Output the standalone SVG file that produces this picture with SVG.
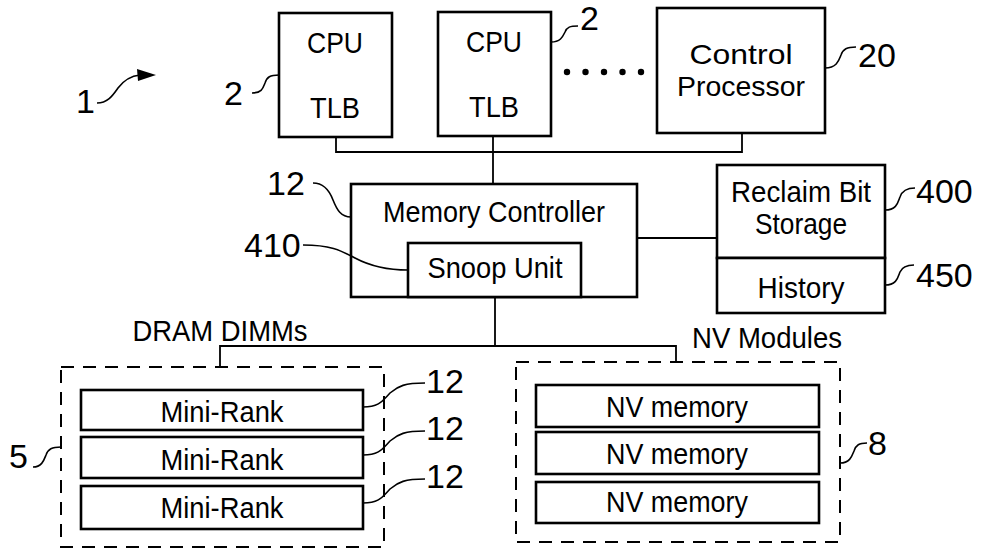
<svg xmlns="http://www.w3.org/2000/svg" width="982" height="550" viewBox="0 0 982 550">
<style>
.box{fill:#fff;stroke:#000;stroke-width:2.6}
.dash{fill:none;stroke:#000;stroke-width:2;stroke-dasharray:13 9}
.ln{fill:none;stroke:#000;stroke-width:1.8}
.sq{fill:none;stroke:#000;stroke-width:1.6}
.t{font-family:"Liberation Sans",Arial,sans-serif;font-size:30px;text-anchor:middle;fill:#000}
.lb{font-family:"Liberation Sans",Arial,sans-serif;font-size:34px;fill:#000}
</style>
<rect width="982" height="550" fill="#fff"/>
<g id="connectors">
<path class="ln" d="M336,137 V152 H742 V133"/>
<path class="ln" d="M493,136 V185"/>
<path class="ln" d="M637,238 H717"/>
<path class="ln" d="M495,297 V345"/>
<path class="ln" d="M220,367 V346 H676 V362"/>
</g>
<g id="cpu1">
<rect class="box" x="279" y="13" width="113" height="124"/>
<text class="t" x="335" y="53" textLength="56" lengthAdjust="spacingAndGlyphs">CPU</text>
<text class="t" x="335" y="118" textLength="50" lengthAdjust="spacingAndGlyphs">TLB</text>
</g>
<g id="cpu2">
<rect class="box" x="438" y="12" width="113" height="124"/>
<text class="t" x="494" y="52" textLength="56" lengthAdjust="spacingAndGlyphs">CPU</text>
<text class="t" x="494" y="117" textLength="50" lengthAdjust="spacingAndGlyphs">TLB</text>
</g>
<g id="dots">
<circle cx="567" cy="72" r="3.2"/>
<circle cx="585.5" cy="72" r="3.2"/>
<circle cx="604" cy="72" r="3.2"/>
<circle cx="622.5" cy="72" r="3.2"/>
<circle cx="641" cy="72" r="3.2"/>
</g>
<g id="control-processor">
<rect class="box" x="657" y="8" width="168" height="125"/>
<text class="t" x="741" y="64" style="font-size:28px" textLength="103" lengthAdjust="spacingAndGlyphs">Control</text>
<text class="t" x="741" y="96" style="font-size:28px" textLength="128" lengthAdjust="spacingAndGlyphs">Processor</text>
</g>
<g id="memory-controller">
<rect class="box" x="351" y="184" width="286" height="113"/>
<text class="t" x="494" y="222" textLength="222" lengthAdjust="spacingAndGlyphs">Memory Controller</text>
</g>
<g id="snoop-unit">
<rect class="box" x="408" y="243" width="173" height="54"/>
<text class="t" x="495" y="278" textLength="135" lengthAdjust="spacingAndGlyphs">Snoop Unit</text>
</g>
<g id="reclaim-bit-storage">
<rect class="box" x="717" y="165" width="168" height="93"/>
<text class="t" x="801" y="202" textLength="140" lengthAdjust="spacingAndGlyphs">Reclaim Bit</text>
<text class="t" x="801" y="234" textLength="92" lengthAdjust="spacingAndGlyphs">Storage</text>
</g>
<g id="history">
<rect class="box" x="717" y="258" width="168" height="55"/>
<text class="t" x="801" y="298" textLength="87" lengthAdjust="spacingAndGlyphs">History</text>
</g>
<g id="dram-dimms">
<rect class="dash" x="61" y="367" width="323" height="180"/>
<text class="t" x="220" y="341" textLength="175" lengthAdjust="spacingAndGlyphs">DRAM DIMMs</text>
</g>
<g id="mini-rank-1">
<rect class="box" x="81" y="390" width="282" height="40"/>
<text class="t" x="222" y="422" textLength="123" lengthAdjust="spacingAndGlyphs">Mini-Rank</text>
</g>
<g id="mini-rank-2">
<rect class="box" x="81" y="437" width="282" height="41"/>
<text class="t" x="222" y="470" textLength="123" lengthAdjust="spacingAndGlyphs">Mini-Rank</text>
</g>
<g id="mini-rank-3">
<rect class="box" x="81" y="486" width="282" height="43"/>
<text class="t" x="222" y="518" textLength="123" lengthAdjust="spacingAndGlyphs">Mini-Rank</text>
</g>
<g id="nv-modules">
<rect class="dash" x="516" y="362" width="324" height="180"/>
<text class="t" x="767" y="348" textLength="150" lengthAdjust="spacingAndGlyphs">NV Modules</text>
</g>
<g id="nv-memory-1">
<rect class="box" x="536" y="385" width="283" height="42"/>
<text class="t" x="677" y="417" textLength="142" lengthAdjust="spacingAndGlyphs">NV memory</text>
</g>
<g id="nv-memory-2">
<rect class="box" x="536" y="432" width="283" height="42"/>
<text class="t" x="677" y="464" textLength="142" lengthAdjust="spacingAndGlyphs">NV memory</text>
</g>
<g id="nv-memory-3">
<rect class="box" x="536" y="482" width="283" height="41"/>
<text class="t" x="677" y="512" textLength="142" lengthAdjust="spacingAndGlyphs">NV memory</text>
</g>
<g id="labels">
<text class="lb" x="76" y="113">1</text>
<path class="sq" d="M97,103 C108,103 113,95 118,88 C124,80 130,76 140,75"/>
<polygon points="137,69 156,75 138,81"/>
<text class="lb" x="224" y="105">2</text>
<path class="sq" d="M252,93 C262,93 263,88 265,83 C267,77 270,75 279,75"/>
<text class="lb" x="580" y="30">2</text>
<path class="sq" d="M551,42 C561,42 563,36 565,32 C567,27 570,26 578,26"/>
<text class="lb" x="858" y="67">20</text>
<path class="sq" d="M825,68 C837,68 839,60 841,55 C843,49 847,47 856,47"/>
<text class="lb" x="267" y="195">12</text>
<path class="sq" d="M313,183 C325,183 330,192 333,200 C337,210 341,217 351,217"/>
<text class="lb" x="244" y="257">410</text>
<path class="sq" d="M303,245 C330,245 340,250 355,258 C370,266 385,270 408,270"/>
<text class="lb" x="916" y="203">400</text>
<path class="sq" d="M885,210 C897,210 898,202 900,197 C902,191 906,188 915,188"/>
<text class="lb" x="916" y="287">450</text>
<path class="sq" d="M885,285 C897,285 898,277 900,272 C902,267 906,265 914,265"/>
<text class="lb" x="426" y="393">12</text>
<path class="sq" d="M363,407 C380,407 383,400 390,393 C398,386 405,383 425,383"/>
<text class="lb" x="426" y="440">12</text>
<path class="sq" d="M363,455 C380,455 383,448 390,441 C398,434 405,431 425,431"/>
<text class="lb" x="426" y="488">12</text>
<path class="sq" d="M363,503 C380,503 383,496 390,489 C398,482 405,479 425,479"/>
<text class="lb" x="9" y="468">5</text>
<path class="sq" d="M33,467 C42,467 44,460 46,455 C48,449 52,447 61,447"/>
<text class="lb" x="868" y="455">8</text>
<path class="sq" d="M840,463 C850,463 852,456 854,451 C856,445 859,443 867,443"/>
</g>
</svg>
